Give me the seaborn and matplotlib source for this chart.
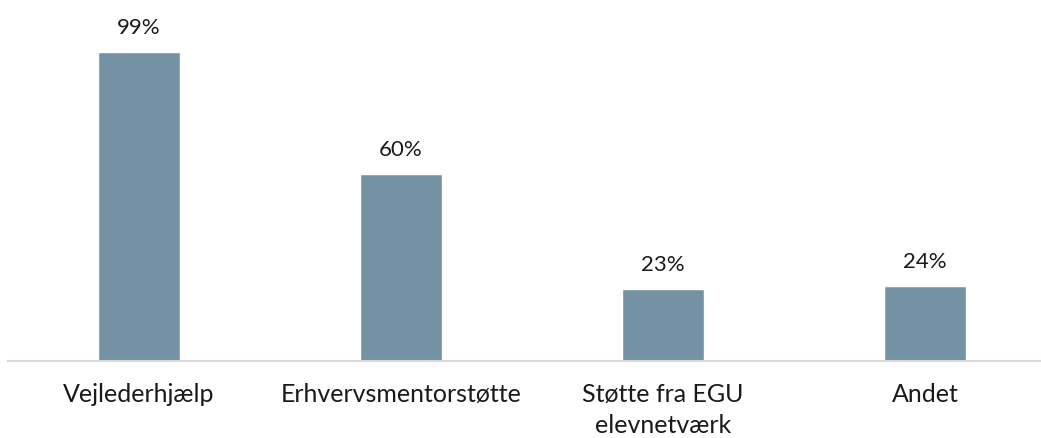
import matplotlib
matplotlib.use("Agg")
import matplotlib.pyplot as plt
import seaborn as sns
import pandas as pd

categories = ["Vejlederhjælp", "Erhvervsmentorstøtte", "Støtte fra EGU\nelevnetværk", "Andet"]
values = [99, 60, 23, 24]

df = pd.DataFrame({"cat": categories, "val": values})

sns.set_theme(style="white")
plt.rcParams['font.family'] = ['Lato', 'DejaVu Sans']

W, H = 1041, 438
fig = plt.figure(figsize=(W / 100, H / 100), dpi=100)
ax = fig.add_axes([8 / W, (H - 361) / H, (1040 - 8) / W, (361 - 10) / H])

sns.barplot(data=df, x="cat", y="val", color="#7592a4", width=0.313, ax=ax, saturation=1)

ax.set_xlim(-0.5, (1040 - 139) / 262)
ax.set_ylim(0, (361 - 10) / 3.121)

for c in ax.containers:
    ax.bar_label(c, labels=[f"{v}%" for v in values], padding=10, fontsize=16, color="#1a1a1a")

ax.set_xlabel("")
ax.set_ylabel("")
ax.set_yticks([])
ax.tick_params(axis="x", length=0, pad=16, labelsize=18, labelcolor="#1a1a1a")
for lbl in ax.get_xticklabels():
    lbl.set_linespacing(1.4)
for s in ["top", "right", "left"]:
    ax.spines[s].set_visible(False)
ax.spines["bottom"].set_color("#d9d9d9")
ax.spines["bottom"].set_linewidth(1.5)

fig.savefig("out.png", dpi=100)
